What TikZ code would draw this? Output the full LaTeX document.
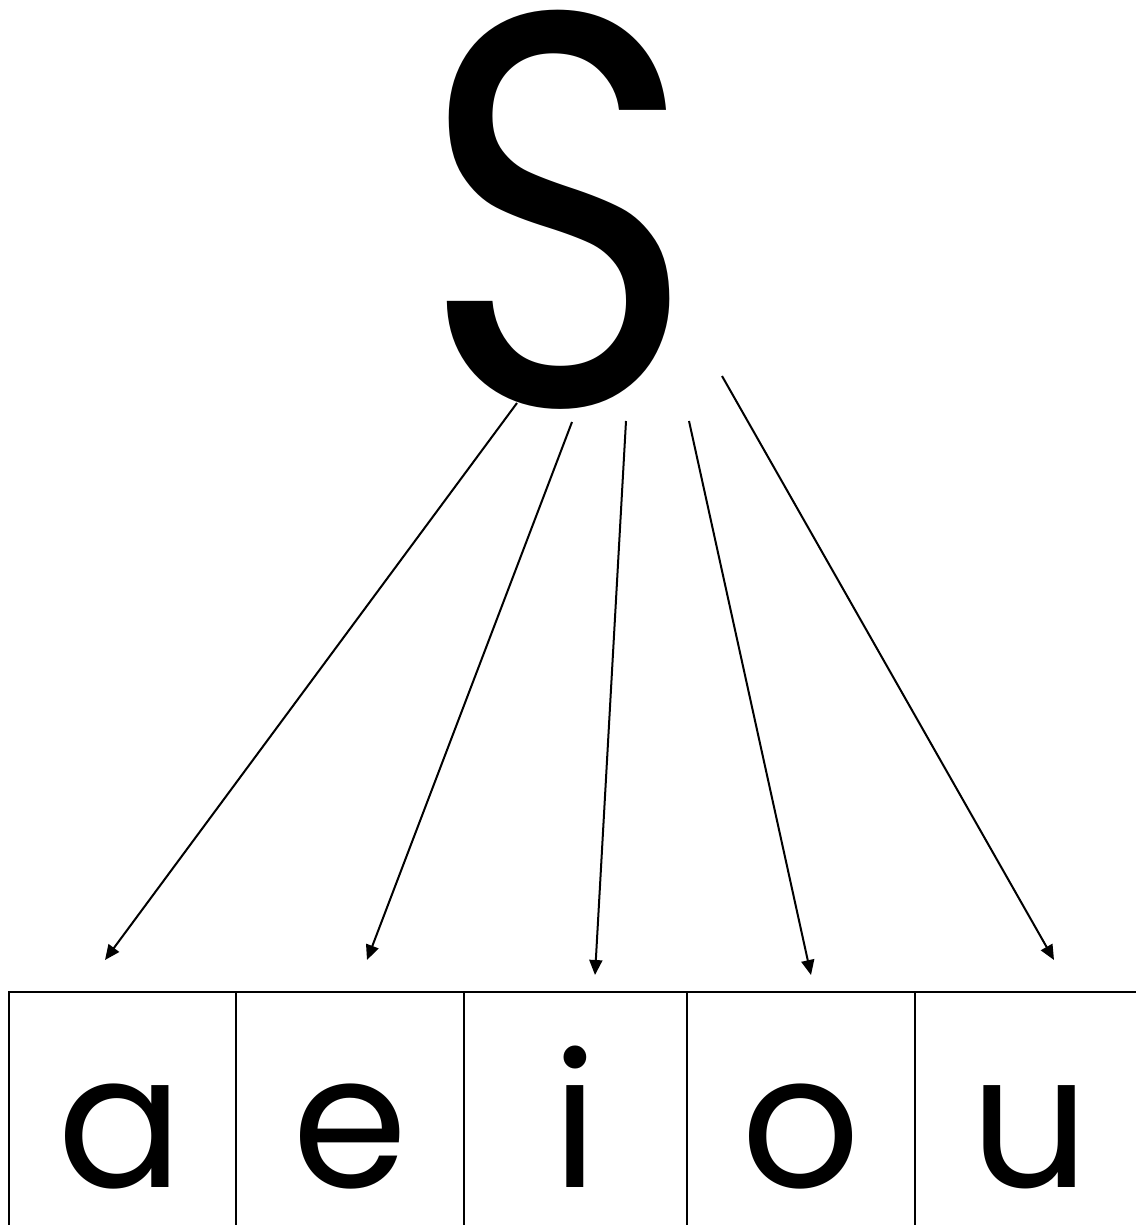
\documentclass[tikz,border=0pt]{standalone}
\usepackage{fontspec}
\setmainfont{Poppins}
\usetikzlibrary{arrows.meta}
\begin{document}
\begin{tikzpicture}[x=1pt,y=-1pt,
  letter/.style={inner sep=0pt, anchor=base, font=\fontsize{186}{200}\selectfont},
  big/.style={inner sep=0pt, anchor=base, font=\fontsize{560}{600}\selectfont},
  rule/.style={line width=2pt},
  link/.style={line width=2pt, -{Triangle[length=15pt,width=13pt]}}]
\useasboundingbox (0,0) rectangle (1136,1225);
% table
\draw[rule] (9,1225) -- (9,992) -- (1136,992);
\foreach \x in {236,464,687,915} \draw[rule] (\x,992) -- (\x,1225);
% letters
\node[big] (S) at (559,405) {\scalebox{0.84}[1]{S}};
\node[letter] (a) at (120,1187) {a};
\node[letter] (e) at (350,1187) {e};
\node[letter] (i) at (575,1187) {i};
\node[letter] (o) at (801,1187) {o};
\node[letter] (u) at (1030,1187) {u};
% arrow ends
\coordinate (s1) at (517,403); \coordinate (t1) at (105,960);
\coordinate (s2) at (572,422); \coordinate (t2) at (367,960);
\coordinate (s3) at (626,421); \coordinate (t3) at (595,975);
\coordinate (s4) at (689,421); \coordinate (t4) at (811,975);
\coordinate (s5) at (722,376); \coordinate (t5) at (1054,960);
\foreach \k in {1,...,5} \draw[link] (s\k) -- (t\k);
\end{tikzpicture}
\end{document}
